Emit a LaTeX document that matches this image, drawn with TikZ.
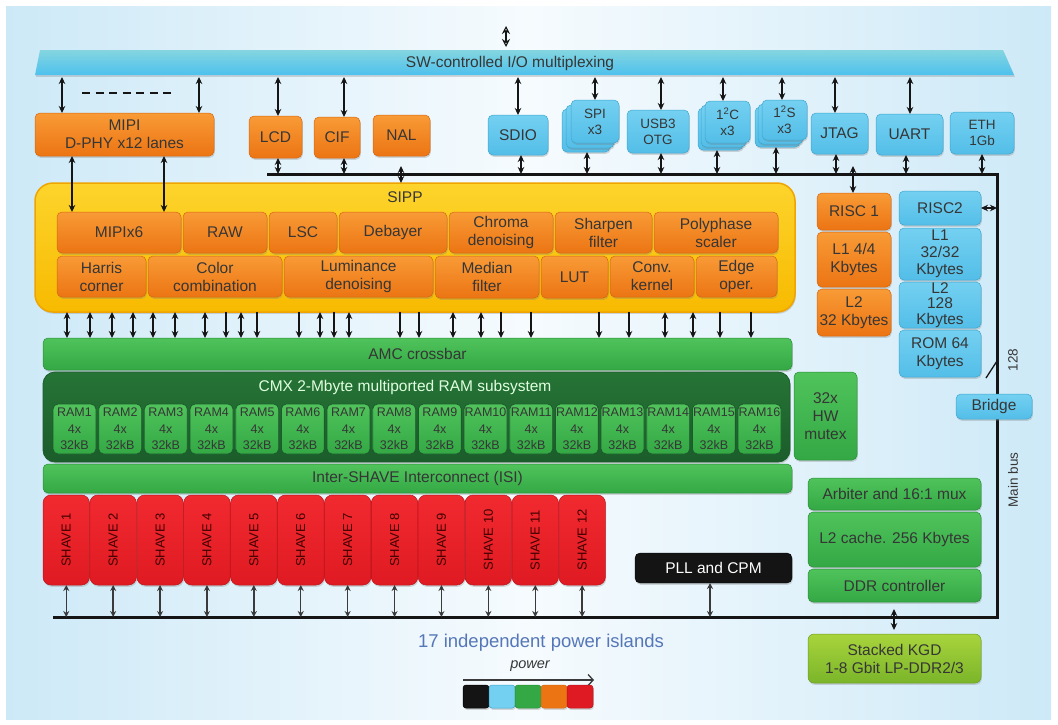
\documentclass[tikz,border=0pt]{standalone}
\usepackage{fontspec}
\setmainfont{Liberation Sans}
\usetikzlibrary{arrows.meta,shadows}
\definecolor{txt}{HTML}{363636}
\definecolor{arr}{HTML}{151515}
\definecolor{arrg}{HTML}{3A3A3A}
\definecolor{bgb}{HTML}{CDE9F7}
\definecolor{bgw}{HTML}{F6FBFE}
\definecolor{barT}{HTML}{84D5DF}
\definecolor{barB}{HTML}{4EC1EE}
\definecolor{orT}{HTML}{F89B36}
\definecolor{orB}{HTML}{EC7413}
\definecolor{orD}{HTML}{D6660E}
\definecolor{blT}{HTML}{74D0F1}
\definecolor{blB}{HTML}{53BEE8}
\definecolor{blD}{HTML}{3EA6D0}
\definecolor{grT}{HTML}{50C35B}
\definecolor{grB}{HTML}{33A844}
\definecolor{grD}{HTML}{2A8C38}
\definecolor{dgT}{HTML}{267436}
\definecolor{dgB}{HTML}{1B5C2B}
\definecolor{rdT}{HTML}{F12A30}
\definecolor{rdB}{HTML}{E01A22}
\definecolor{rdD}{HTML}{B8141A}
\definecolor{yeT}{HTML}{FDD42C}
\definecolor{yeB}{HTML}{F7BA00}
\definecolor{yeD}{HTML}{F0A400}
\definecolor{kgT}{HTML}{A8D43C}
\definecolor{kgB}{HTML}{7BB52A}
\definecolor{kgD}{HTML}{6A9E22}
\definecolor{pwr}{HTML}{5577B8}
\definecolor{lgK}{HTML}{141414}
\newcommand\bx[7]{%
  \pgfmathsetmacro\bcx{(#2+#4)/2}\pgfmathsetmacro\bcy{(#3+#5)/2}%
  \pgfmathsetmacro\bw{#4-#2}\pgfmathsetmacro\bh{#5-#3}%
  \node[#6, minimum width=\bw pt, minimum height=\bh pt] (#1) at (\bcx,\bcy) {#7};}
\newcommand\fnt{\fontsize{15.5}{18}\selectfont}
\newcommand\fsm{\fontsize{13.5}{16}\selectfont}
\tikzset{
 shd/.style={drop shadow={shadow xshift=0.8pt, shadow yshift=-1.8pt, opacity=0.3}},
 bx/.style={inner sep=0pt, outer sep=0pt, rounded corners=5pt, align=center, text=txt, font=\fnt, shd},
 ob/.style={bx, top color=orT, bottom color=orB, draw=orD, line width=0.5pt},
 bb/.style={bx, top color=blT, bottom color=blB, draw=blD, line width=0.5pt},
 gb/.style={bx, top color=grT, bottom color=grB, draw=grD, line width=0.5pt},
 rb/.style={bx, rounded corners=8pt, top color=rdT, bottom color=rdB, draw=rdD, line width=0.5pt},
 ramb/.style={inner sep=0pt, outer sep=0pt, rounded corners=5pt, align=center, text=txt,
   top color=grT, bottom color=grB, draw=dgB, line width=0.8pt, font=\fontsize{12.5}{16.5}\selectfont},
 sippb/.style={bx, rounded corners=18pt, top color=yeT, bottom color=yeB, draw=yeD, line width=1.5pt},
 cmxb/.style={bx, rounded corners=12pt, top color=dgT, bottom color=dgB, draw=dgB, line width=0.8pt},
 pllb/.style={bx, fill=black!92, draw=black, text=white},
 kgdb/.style={bx, rounded corners=6pt, top color=kgT, bottom color=kgB, draw=kgD, line width=0.5pt},
 da/.style={line width=1.8pt, draw=arr, {Stealth[length=7pt,width=6.5pt]}-{Stealth[length=7pt,width=6.5pt]}},
 sa/.style={line width=1.8pt, draw=arr, -{Stealth[length=7pt,width=6.5pt]}},
 ga/.style={line width=1.4pt, draw=arrg, {Stealth[length=6pt,width=6pt]}-{Stealth[length=6pt,width=6pt]}},
 busline/.style={line width=3pt, draw=arr, line join=miter},
}
\begin{document}
\begin{tikzpicture}[x=1pt,y=-1pt]
\useasboundingbox (0,0) rectangle (1058,724);
\fill[white] (0,0) rectangle (1058,724);
\shade[left color=bgb, right color=bgb, middle color=bgw] (6,6) rectangle (1051,719);

% I/O multiplexing bar
\shade[top color=barT, bottom color=barB, shd]
  (40,50) -- (1003,50) -- (1014,75) -- (35,75) -- cycle;
\bx{bar}{35}{50}{1014}{75}{inner sep=0pt, outer sep=0pt}{}
\node[font=\fnt, text=txt] (bartxt) at (510,63) {SW-controlled I/O multiplexing};
\coordinate (ioA) at (506,26);
\coordinate (ioB) at (506,47);
\draw[line width=1.1pt, draw=arr, {Stealth[open,length=8pt,width=8pt]}-{Stealth[open,length=8pt,width=8pt]}] (ioA) -- (ioB);

% main bus
\coordinate (bL) at (267,174);
\coordinate (bTR) at (997,174);
\coordinate (bBR) at (997,617);
\coordinate (bBL) at (53,617);
\draw[busline] (bL) -- (bTR) -- (bBR) -- (bBL);
\node[rotate=90, font=\fontsize{13.5}{16}\selectfont, text=txt] (mainbus) at (1013,480) {Main bus};
\node[rotate=90, font=\fontsize{13.5}{16}\selectfont, text=txt] (w128) at (1013,360) {128};
\draw[line width=1.3pt, draw=arr] (986,378) -- (997,361);

% top row peripherals
\bx{mipi}{35}{113}{214}{156}{ob}{MIPI\\D-PHY x12 lanes}
\draw[line width=2.6pt, draw=arr, dash pattern=on 8pt off 5.5pt] (82,93) -- (176,93);
\bx{lcd}{249}{116}{302}{158}{ob}{LCD}
\bx{cif}{314}{117}{360}{158}{ob}{CIF}
\bx{nal}{373}{115}{430}{156}{ob}{NAL}
\bx{sdio}{488}{115}{548}{155}{bb}{SDIO}
\bx{spiC}{562}{109}{610}{152}{bb}{}
\bx{spiB}{566}{105}{614}{148}{bb}{}
\bx{spiA}{571}{100}{619}{143}{bb,font=\fsm}{SPI\\x3}
\bx{usb}{627}{110}{689}{153}{bb,font=\fsm}{USB3\\OTG}
\bx{i2cC}{698}{108}{743}{150}{bb}{}
\bx{i2cB}{701}{105}{746}{147}{bb}{}
\bx{i2cA}{705}{101}{750}{143}{bb,font=\fsm}{1\textsuperscript{2}C\\x3}
\bx{i2sC}{755}{107}{800}{147}{bb}{}
\bx{i2sB}{758}{104}{803}{144}{bb}{}
\bx{i2sA}{762}{100}{807}{140}{bb,font=\fsm}{1\textsuperscript{2}S\\x3}
\bx{jtag}{811}{113}{868}{154}{bb}{JTAG}
\bx{uart}{876}{114}{943}{155}{bb}{UART}
\bx{eth}{950}{112}{1014}{154}{bb,font=\fsm}{ETH\\1Gb}

% SIPP
\bx{sipp}{35}{183}{795}{312}{sippb}{}
\node[font=\fnt, text=txt] (sippt) at (405,197) {SIPP};
\bx{s1}{57}{212}{181}{253}{ob}{MIPIx6}
\bx{s2}{183}{212}{267}{253}{ob}{RAW}
\bx{s3}{269}{212}{337}{253}{ob}{LSC}
\bx{s4}{339}{212}{447}{253}{ob}{Debayer}
\bx{s5}{449}{212}{553}{253}{ob}{Chroma\\denoising}
\bx{s6}{555}{212}{652}{253}{ob}{Sharpen\\filter}
\bx{s7}{654}{212}{778}{253}{ob}{Polyphase\\scaler}
\bx{t1}{57}{256}{146}{297}{ob}{Harris\\corner}
\bx{t2}{148}{256}{282}{297}{ob}{Color\\combination}
\bx{t3}{284}{256}{433}{297}{ob}{Luminance\\denoising}
\bx{t4}{435}{256}{539}{298}{ob}{Median\\filter}
\bx{t5}{541}{256}{608}{298}{ob}{LUT}
\bx{t6}{610}{256}{694}{297}{ob}{Conv.\\kernel}
\bx{t7}{696}{256}{777}{297}{ob}{Edge\\oper.}

% RISC columns
\bx{risc1}{817}{193}{891}{230}{ob}{RISC 1}
\bx{l1a}{817}{232}{891}{287}{ob}{L1 4/4\\Kbytes}
\bx{l2a}{817}{289}{891}{336}{ob}{L2\\32 Kbytes}
\bx{risc2}{899}{191}{981}{225}{bb}{RISC2}
\bx{l1b}{899}{228}{981}{280}{bb,font=\fontsize{15.5}{17}\selectfont}{L1\\32/32\\Kbytes}
\bx{l2b}{899}{282}{981}{328}{bb,font=\fontsize{15.5}{15.5}\selectfont}{L2\\128\\Kbytes}
\bx{rom}{899}{330}{981}{377}{bb}{ROM 64\\Kbytes}
\bx{bridge}{956}{394}{1032}{419}{bb}{Bridge}

% AMC / CMX / ISI
\bx{amc}{43}{338}{792}{370}{gb}{AMC crossbar}
\bx{cmx}{43}{372}{790}{462}{cmxb}{}
\node[font=\fnt, text=white!88!green] (cmxt) at (405,387) {CMX 2-Mbyte multiported RAM subsystem};
\foreach \i in {1,...,16}{
  \pgfmathsetmacro\xa{53+(\i-1)*45.67}
  \pgfmathsetmacro\xb{\xa+43}
  \bx{ram\i}{\xa}{404}{\xb}{454}{ramb}{RAM\i\\4x\\32kB}
}
\bx{mutex}{794}{372}{857}{460}{gb}{32x\\HW\\mutex}
\bx{isi}{43}{464}{792}{493}{gb}{Inter-SHAVE Interconnect (ISI)}

% SHAVEs
\foreach \i in {1,...,12}{
  \pgfmathsetmacro\xa{43+(\i-1)*46.9}
  \pgfmathsetmacro\xb{\xa+46.5}
  \bx{sh\i}{\xa}{495}{\xb}{585}{rb}{}
  \node[rotate=90, font=\fontsize{13}{15}\selectfont, text=black!75!red] (sht\i) at (sh\i.center) {SHAVE \i};
  \draw[ga] (sh\i.south) -- (sh\i.south |- bBL);
}

\bx{pll}{635}{553}{792}{583}{pllb}{PLL and CPM}
\draw[ga] (710,0 |- pll.south) -- (710,0 |- bBL);

% memory column
\bx{arb}{808}{478}{981}{510}{gb}{Arbiter and 16:1 mux}
\bx{l2c}{808}{512}{981}{567}{gb}{L2 cache. 256 Kbytes}
\bx{ddr}{808}{569}{981}{602}{gb}{DDR controller}
\bx{kgd}{808}{634}{981}{683}{kgdb}{Stacked KGD\\1-8 Gbit LP-DDR2/3}
\draw[da, shorten <=7pt, shorten >=4pt] (894,0 |- ddr.south) -- (894,0 |- kgd.north);

% arrows: bar to peripherals
\foreach \x/\n in {62/mipi,199/mipi,278/lcd,344/cif,518/sdio,595/spiA,661/usb,723/i2cA,782/i2sA,835/jtag,910/uart}
  \draw[da, shorten <=2pt] (\x,0 |- bar.south) -- (\x,0 |- \n.north);
% peripherals to bus
\foreach \x/\n in {278/lcd,344/cif,521/sdio,587/spiC,661/usb,717/i2cC,776/i2sC,836/jtag,906/uart,982/eth}
  \draw[da] (\x,0 |- \n.south) -- (\x,0 |- bTR);
% MIPI to SIPP
\foreach \x in {72,164}
  \draw[da] (\x,0 |- mipi.south) -- (\x,0 |- s1.north);
% bus to SIPP and RISC1
\coordinate (sippin) at (401,166);
\draw[da] (sippin) -- (sippin |- sipp.north);
\coordinate (riscin) at (853,166);
\draw[da] (riscin) -- (riscin |- risc1.north);
\draw[da] (risc2.east) -- (risc2.east -| bTR);
% SIPP to AMC
\foreach \x in {67,90,112,133,153,175,205,241,320,349,453,481,665,693}
  \draw[da] (\x,0 |- sipp.south) -- (\x,0 |- amc.north);
\foreach \x in {226,257,299,334,400,419,501,531,599,629,720,751}
  \draw[sa] (\x,0 |- sipp.south) -- (\x,0 |- amc.north);

% legend
\node[font=\fontsize{18.5}{20}\selectfont, text=pwr] (islands) at (541,643) {17 independent power islands};
\node[font=\itshape\fontsize{14.5}{16}\selectfont, text=txt] (pw) at (530,666) {power};
\coordinate (pwL) at (463,680);
\coordinate (pwR) at (594,680);
\draw[line width=1.3pt, draw=arrg, -{Straight Barb[length=5pt,width=11pt]}] (pwL) -- (pwR);
\foreach \c/\d/\k in {lgK/black/0,blT/blD/1,grB/grD/2,orB/orD/3,rdB/rdD/4}{
  \pgfmathsetmacro\xa{463+\k*26}
  \pgfmathsetmacro\xb{\xa+26}
  \bx{lg\k}{\xa}{685}{\xb}{708}{bx, rounded corners=3pt, fill=\c, draw=\d, line width=0.5pt}{}
}
\end{tikzpicture}
\end{document}
